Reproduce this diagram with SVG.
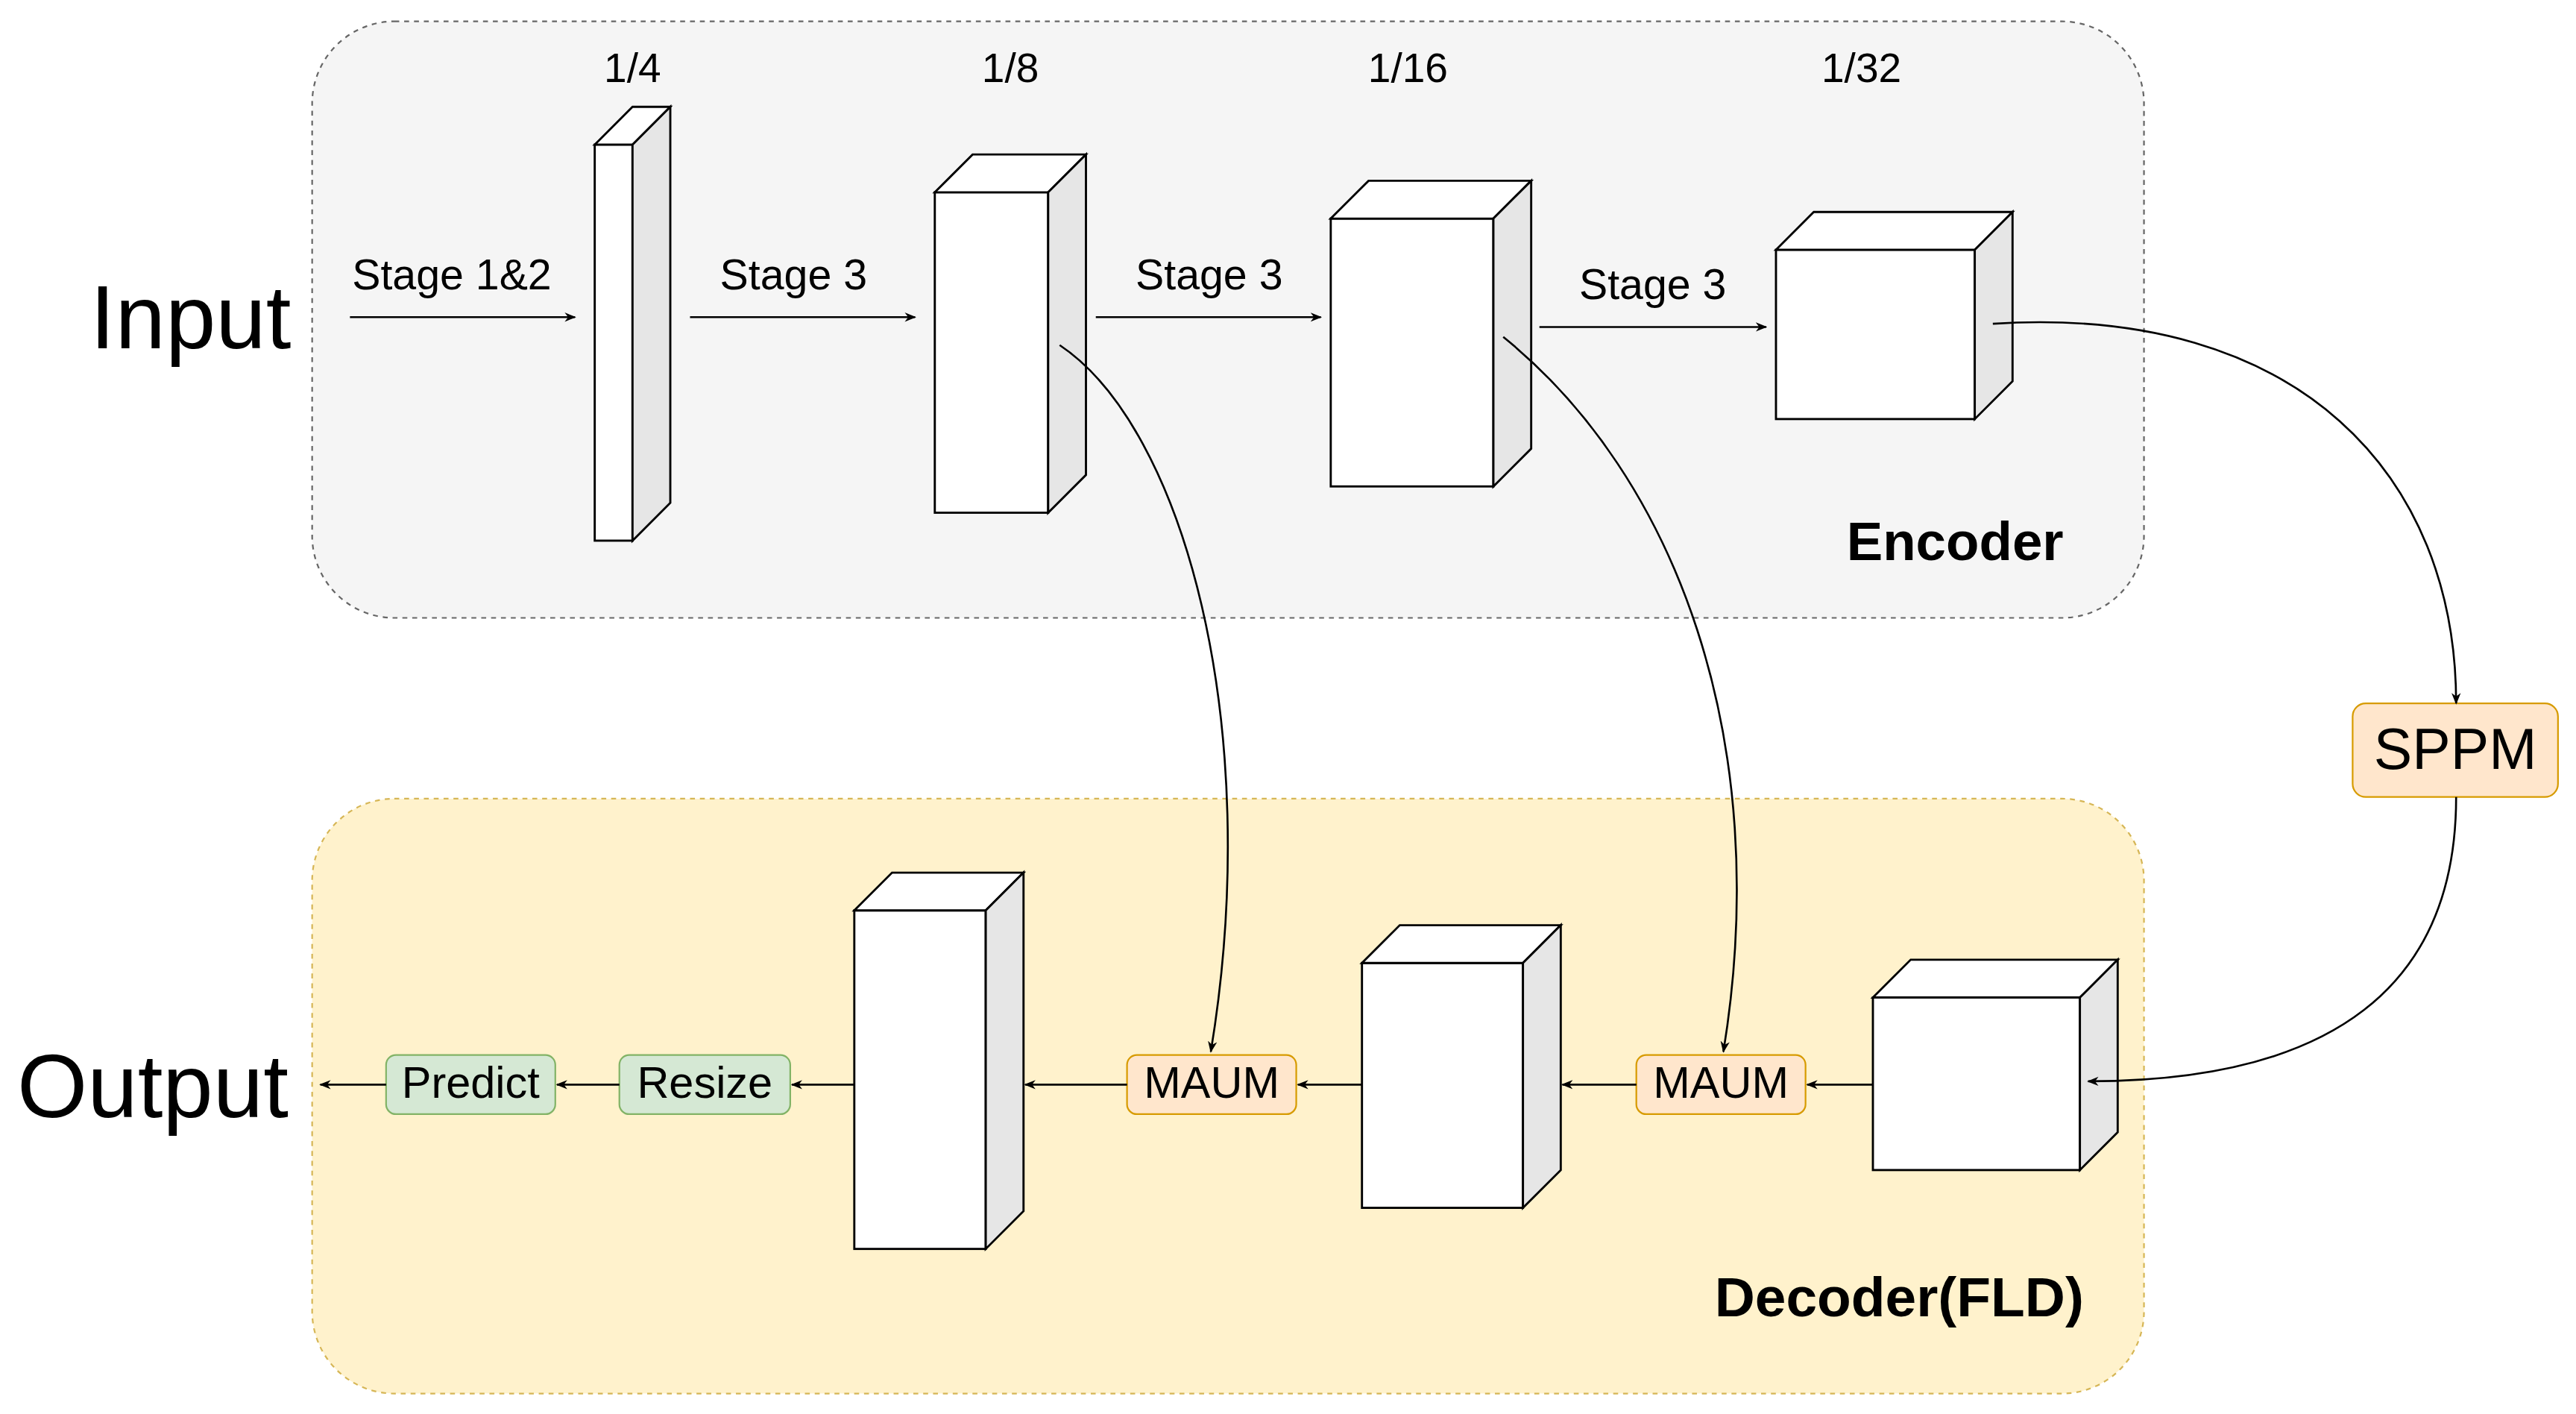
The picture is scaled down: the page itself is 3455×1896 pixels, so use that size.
<svg xmlns="http://www.w3.org/2000/svg" width="3455" height="1896" viewBox="0 0 3455 1896">
<style>
.t{font-family:"Liberation Sans",Arial,sans-serif;fill:#000}
.c{stroke:#000;stroke-width:1.2;fill:none;marker-end:url(#a)}
.f{fill:#fff;stroke:#000;stroke-width:1.3}
.s{fill:#e6e6e6;stroke:#000;stroke-width:1.3}
</style>
<defs><marker id="a" viewBox="0 0 10 10" refX="9" refY="5" markerWidth="7" markerHeight="7" orient="auto" markerUnits="userSpaceOnUse"><path d="M0,1 L10,5 L0,9 L3,5 Z" fill="#000"/></marker></defs>
<rect width="3455" height="1896" fill="#fff"/>
<g transform="scale(2.2035)">
<g id="encoder"><rect x="190" y="13" width="1115" height="363" rx="50" fill="#f5f5f5" stroke="#666" stroke-dasharray="3 3"/><text class="t" x="1190" y="341" font-size="33" font-weight="bold" text-anchor="middle">Encoder</text></g>
<g id="decoder"><rect x="190" y="486" width="1115" height="362" rx="50" fill="#fff2cc" stroke="#d6b656" stroke-dasharray="3 3"/><text class="t" x="1156" y="801" font-size="34" font-weight="bold" text-anchor="middle">Decoder(FLD)</text></g>
<g id="input"><text class="t" x="116" y="212" font-size="55" text-anchor="middle">Input</text></g>
<g id="output"><text class="t" x="93" y="680" font-size="55" text-anchor="middle">Output</text></g>
<g id="scales">
<text class="t" x="385" y="50" font-size="25" text-anchor="middle">1/4</text>
<text class="t" x="615" y="50" font-size="25" text-anchor="middle">1/8</text>
<text class="t" x="857" y="50" font-size="25" text-anchor="middle">1/16</text>
<text class="t" x="1133" y="50" font-size="25" text-anchor="middle">1/32</text>
</g>
<g id="cube1"><rect class="f" x="362" y="88" width="23" height="241"/><path class="f" d="M362,88 L385,65 L408,65 L385,88 Z"/><path class="s" d="M385,88 L408,65 L408,306 L385,329 Z"/></g>
<g id="cube2"><rect class="f" x="569" y="117" width="69" height="195"/><path class="f" d="M569,117 L592,94 L661,94 L638,117 Z"/><path class="s" d="M638,117 L661,94 L661,289 L638,312 Z"/></g>
<g id="cube3"><rect class="f" x="810" y="133" width="99" height="163"/><path class="f" d="M810,133 L833,110 L932,110 L909,133 Z"/><path class="s" d="M909,133 L932,110 L932,273 L909,296 Z"/></g>
<g id="cube4"><rect class="f" x="1081" y="152" width="121" height="103"/><path class="f" d="M1081,152 L1104,129 L1225,129 L1202,152 Z"/><path class="s" d="M1202,152 L1225,129 L1225,232 L1202,255 Z"/></g>
<g id="cubeA"><rect class="f" x="520" y="554" width="80" height="206"/><path class="f" d="M520,554 L543,531 L623,531 L600,554 Z"/><path class="s" d="M600,554 L623,531 L623,737 L600,760 Z"/></g>
<g id="cubeB"><rect class="f" x="829" y="586" width="98" height="149"/><path class="f" d="M829,586 L852,563 L950,563 L927,586 Z"/><path class="s" d="M927,586 L950,563 L950,712 L927,735 Z"/></g>
<g id="cubeC"><rect class="f" x="1140" y="607" width="126" height="105"/><path class="f" d="M1140,607 L1163,584 L1289,584 L1266,607 Z"/><path class="s" d="M1266,607 L1289,584 L1289,689 L1266,712 Z"/></g>
<g id="sppm"><rect x="1432" y="428" width="125" height="57" rx="8" fill="#ffe6cc" stroke="#d79b00"/><text class="t" x="1494.5" y="468" font-size="35" text-anchor="middle">SPPM</text></g>
<g id="maum1"><rect x="686" y="642" width="103" height="36" rx="6" fill="#ffe6cc" stroke="#d79b00"/><text class="t" x="737.5" y="668" font-size="27" text-anchor="middle">MAUM</text></g>
<g id="maum2"><rect x="996" y="642" width="103" height="36" rx="6" fill="#ffe6cc" stroke="#d79b00"/><text class="t" x="1047.5" y="668" font-size="27" text-anchor="middle">MAUM</text></g>
<g id="resize"><rect x="377" y="642" width="104" height="36" rx="6" fill="#d5e8d4" stroke="#82b366"/><text class="t" x="429" y="668" font-size="27" text-anchor="middle">Resize</text></g>
<g id="predict"><rect x="235" y="642" width="103" height="36" rx="6" fill="#d5e8d4" stroke="#82b366"/><text class="t" x="286.5" y="668" font-size="27" text-anchor="middle">Predict</text></g>
<g id="connectors">
<path class="c" d="M213,193 L350,193"/><path class="c" d="M420,193 L557,193"/><path class="c" d="M667,193 L804,193"/><path class="c" d="M937,199 L1075,199"/>
<path class="c" d="M1213,197 C1400,185 1495,290 1495,428"/>
<path class="c" d="M1495,485 C1495,600 1420,658 1271,658"/>
<path class="c" d="M645,210 C720,260 770,440 737,640"/>
<path class="c" d="M915,205 C1020,290 1080,450 1049,640"/>
<path class="c" d="M1140,660 L1100,660"/><path class="c" d="M996,660 L951,660"/><path class="c" d="M829,660 L790,660"/><path class="c" d="M686,660 L624,660"/><path class="c" d="M520,660 L482,660"/><path class="c" d="M377,660 L339,660"/><path class="c" d="M235,660 L195,660"/>
</g>
<g id="labels">
<text class="t" x="275" y="176" font-size="26" text-anchor="middle">Stage 1&amp;2</text>
<text class="t" x="483" y="176" font-size="26" text-anchor="middle">Stage 3</text>
<text class="t" x="736" y="176" font-size="26" text-anchor="middle">Stage 3</text>
<text class="t" x="1006" y="182" font-size="26" text-anchor="middle">Stage 3</text>
</g>
</g>
</svg>
